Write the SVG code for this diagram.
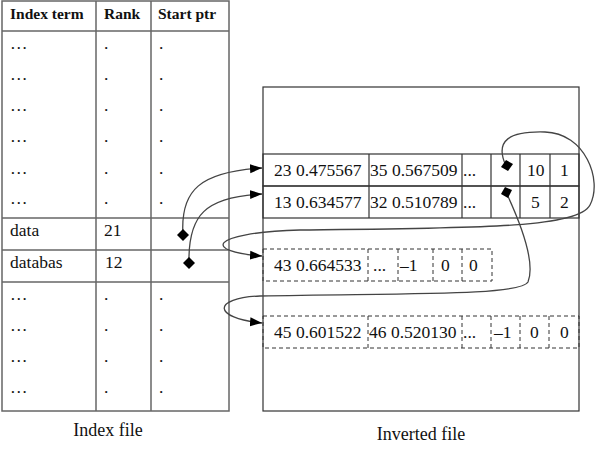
<svg xmlns="http://www.w3.org/2000/svg" width="597" height="458" viewBox="0 0 597 458">
  <style>
    .grid { fill: none; stroke: #666; stroke-width: 1.5; }
    .box { fill: none; stroke: #333; stroke-width: 1.2; }
    .dash { fill: none; stroke: #333; stroke-width: 1; stroke-dasharray: 4 3; }
    .t { font-family: "Liberation Serif", "Times New Roman", serif; font-size: 17.5px; fill: #111; }
    .h { font-family: "Liberation Serif", "Times New Roman", serif; font-size: 15.5px; font-weight: bold; fill: #111; }
    .lbl { font-family: "Liberation Serif", "Times New Roman", serif; font-size: 18px; fill: #111; }
    .wire { fill: none; stroke: #444; stroke-width: 1.3; }
    .dia { fill: #000; }
  </style>
  <defs>
    <marker id="arrow" viewBox="0 0 12 10" refX="12" refY="5" markerWidth="12" markerHeight="10" markerUnits="userSpaceOnUse" orient="auto">
      <path d="M0,0.5 L12,5 L0,9.5 Z" fill="#000"/>
    </marker>
  </defs>

  <!-- Index file table -->
  <g id="index-file">
    <rect class="grid" x="2" y="1" width="227" height="410"/>
    <line class="grid" x1="96" y1="1" x2="96" y2="411"/>
    <line class="grid" x1="151" y1="1" x2="151" y2="411"/>
    <line class="grid" x1="2" y1="31" x2="229" y2="31"/>
    <line class="grid" x1="2" y1="218" x2="229" y2="218"/>
    <line class="grid" x1="2" y1="250" x2="229" y2="250"/>
    <line class="grid" x1="2" y1="282" x2="229" y2="282"/>
    <text class="h" x="10" y="19">Index term</text>
    <text class="h" x="104" y="19">Rank</text>
    <text class="h" x="158" y="19">Start ptr</text>
    <g class="t">
      <text x="10" y="49">…</text><text x="104" y="49">.</text><text x="159" y="49">.</text>
      <text x="10" y="80">…</text><text x="104" y="80">.</text><text x="159" y="80">.</text>
      <text x="10" y="111">…</text><text x="104" y="111">.</text><text x="159" y="111">.</text>
      <text x="10" y="142">…</text><text x="104" y="142">.</text><text x="159" y="142">.</text>
      <text x="10" y="174">…</text><text x="104" y="174">.</text><text x="159" y="174">.</text>
      <text x="10" y="204">…</text><text x="104" y="204">.</text><text x="159" y="204">.</text>
      <text x="10" y="236">data</text><text x="104" y="236">21</text>
      <text x="10" y="268">databas</text><text x="105" y="268">12</text>
      <text x="10" y="300">…</text><text x="104" y="300">.</text><text x="159" y="300">.</text>
      <text x="10" y="331">…</text><text x="104" y="331">.</text><text x="159" y="331">.</text>
      <text x="10" y="362">…</text><text x="104" y="362">.</text><text x="159" y="362">.</text>
      <text x="10" y="393">…</text><text x="104" y="393">.</text><text x="159" y="393">.</text>
    </g>
    <text class="lbl" x="108" y="436" text-anchor="middle">Index file</text>
  </g>

  <!-- Inverted file -->
  <g id="inverted-file">
    <rect class="box" x="263" y="87" width="316" height="324"/>
    <text class="lbl" x="421" y="440" text-anchor="middle">Inverted file</text>
  </g>

  <!-- Record for "data" -->
  <g id="record-data">
    <rect class="box" x="263" y="154" width="316" height="32"/>
    <line class="box" x1="369" y1="154" x2="369" y2="186"/>
    <line class="box" x1="462" y1="154" x2="462" y2="186"/>
    <line class="box" x1="491" y1="154" x2="491" y2="186"/>
    <line class="box" x1="520" y1="154" x2="520" y2="186"/>
    <line class="box" x1="550" y1="154" x2="550" y2="186"/>
    <text class="t" x="274" y="176">23 0.475567</text>
    <text class="t" x="370" y="176">35 0.567509</text>
    <text class="t" x="463" y="176">...</text>
    <text class="t" x="527" y="176">10</text>
    <text class="t" x="560" y="176">1</text>
  </g>

  <!-- Record for "databas" -->
  <g id="record-databas">
    <rect class="box" x="263" y="186" width="316" height="32"/>
    <line class="box" x1="369" y1="186" x2="369" y2="218"/>
    <line class="box" x1="462" y1="186" x2="462" y2="218"/>
    <line class="box" x1="491" y1="186" x2="491" y2="218"/>
    <line class="box" x1="520" y1="186" x2="520" y2="218"/>
    <line class="box" x1="550" y1="186" x2="550" y2="218"/>
    <text class="t" x="274" y="208">13 0.634577</text>
    <text class="t" x="370" y="208">32 0.510789</text>
    <text class="t" x="463" y="208">...</text>
    <text class="t" x="531" y="208">5</text>
    <text class="t" x="560" y="208">2</text>
  </g>

  <!-- Continuation record 1 -->
  <g id="record-cont-1">
    <rect class="dash" x="263" y="249" width="229" height="32"/>
    <line class="dash" x1="368" y1="249" x2="368" y2="281"/>
    <line class="dash" x1="398" y1="249" x2="398" y2="281"/>
    <line class="dash" x1="433" y1="249" x2="433" y2="281"/>
    <line class="dash" x1="462" y1="249" x2="462" y2="281"/>
    <text class="t" x="274" y="271">43 0.664533</text>
    <text class="t" x="373" y="271">...</text>
    <text class="t" x="400" y="271">–1</text>
    <text class="t" x="441" y="271">0</text>
    <text class="t" x="469" y="271">0</text>
  </g>

  <!-- Continuation record 2 -->
  <g id="record-cont-2">
    <rect class="dash" x="263" y="316" width="316" height="32"/>
    <line class="dash" x1="368" y1="316" x2="368" y2="348"/>
    <line class="dash" x1="462" y1="316" x2="462" y2="348"/>
    <line class="dash" x1="491" y1="316" x2="491" y2="348"/>
    <line class="dash" x1="520" y1="316" x2="520" y2="348"/>
    <line class="dash" x1="549" y1="316" x2="549" y2="348"/>
    <text class="t" x="274" y="338">45 0.601522</text>
    <text class="t" x="369" y="338">46 0.520130</text>
    <text class="t" x="463" y="338">...</text>
    <text class="t" x="494" y="338">–1</text>
    <text class="t" x="530" y="338">0</text>
    <text class="t" x="560" y="338">0</text>
  </g>

  <!-- Pointers -->
  <g id="connectors">
    <path class="wire" d="M183,235 C180,190 200,172 262,168" marker-end="url(#arrow)"/>
    <path class="wire" d="M189,263 C188,215 205,197 262,194" marker-end="url(#arrow)"/>
    <path class="wire" d="M506,166 C494,140 510,131 545,132 C585,133 603,180 590,205 C578,228 480,228 300,230 C205,233 205,252 262,256" marker-end="url(#arrow)"/>
    <path class="wire" d="M506,192 C520,222 536,262 528,282 C520,296 400,293 260,296 C212,298 212,318 262,323" marker-end="url(#arrow)"/>
    <polygon class="dia" points="183,229 189,235 183,241 177,235"/>
    <polygon class="dia" points="189,257 195,263 189,269 183,263"/>
    <polygon class="dia" points="506,160 513,164 508,171 501,167"/>
    <polygon class="dia" points="505,187 512,190 508,198 501,194"/>
  </g>
</svg>
